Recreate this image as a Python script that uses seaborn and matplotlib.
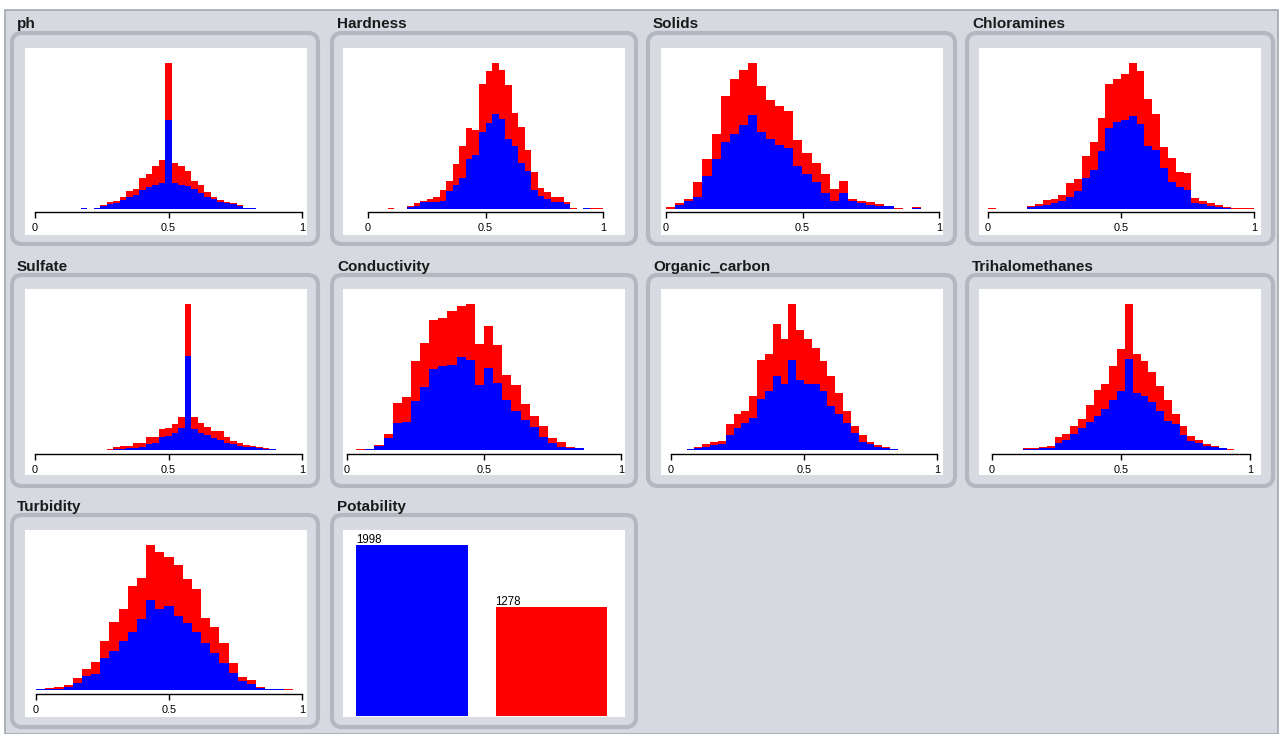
import numpy as np
import pandas as pd
import matplotlib
matplotlib.use("Agg")
import matplotlib.pyplot as plt
import matplotlib.transforms as mtransforms
from matplotlib.patches import FancyBboxPatch, Rectangle
import seaborn as sns

sns.set_theme(style="white")
plt.rcParams["font.family"] = ["Liberation Sans", "DejaVu Sans"]

CLASS_COLORS = {"0": "#0000ff", "1": "#ff0000"}

# Per-bin counts over the normalised range [0, 1]; "_0" = Potability 0, "_1" = Potability 1
ph_0 = [0, 0, 0, 0, 0, 0, 0, 2, 0, 3, 9, 15, 19, 27, 35, 42, 57, 65, 72, 79,
        265, 79, 71, 69, 60, 49, 37, 29, 22, 17, 14, 8, 3, 3, 0, 0, 0, 0, 0, 0, 0]
ph_1 = [0, 0, 0, 0, 0, 0, 0, 0, 0, 0, 4, 6, 5, 8, 19, 19, 35, 40, 57, 67,
        172, 60, 59, 45, 24, 23, 15, 8, 5, 5, 3, 3, 0, 0, 0, 0, 0, 0, 0, 0, 0]

hardness_0 = [0, 0, 0, 0, 0, 0, 7, 10, 20, 22, 22, 24, 54, 72, 92, 149, 162, 229,
              257, 284, 269, 209, 189, 139, 115, 57, 39, 29, 22, 22, 15, 0, 0, 3, 0, 0]
hardness_1 = [0, 0, 0, 3, 0, 0, 3, 7, 4, 8, 15, 33, 30, 62, 98, 93, 75, 145,
              155, 153, 148, 161, 98, 105, 62, 55, 23, 23, 15, 15, 7, 3, 0, 0, 3, 3]

solids_0 = [0, 12, 24, 37, 100, 150, 202, 225, 250, 280, 229, 209, 192, 184, 130,
            104, 82, 49, 24, 47, 23, 17, 13, 10, 8, 0, 0, 3, 0, 0]
solids_1 = [5, 7, 6, 43, 50, 75, 135, 165, 167, 157, 140, 118, 117, 108, 77,
            65, 55, 56, 36, 37, 6, 7, 7, 5, 2, 3, 0, 2, 0, 0]

chloramines_0 = [0, 0, 0, 0, 0, 5, 9, 13, 17, 25, 37, 54, 92, 117, 174, 242, 260,
                 265, 277, 255, 190, 177, 122, 82, 67, 57, 19, 15, 10, 7, 3, 0, 0, 0]
chloramines_1 = [3, 0, 0, 0, 0, 5, 6, 14, 14, 17, 40, 35, 67, 85, 98, 132, 130,
                 140, 160, 157, 140, 107, 65, 70, 43, 50, 13, 10, 7, 5, 4, 3, 3, 3]

sulfate_0 = [0, 0, 0, 0, 0, 0, 0, 0, 0, 0, 0, 0, 3, 4, 5, 7, 10, 18, 20, 38,
             42, 52, 65, 282, 63, 52, 45, 35, 30, 22, 17, 13, 10, 8, 6, 4, 2, 0, 0, 0, 0]
sulfate_1 = [0, 0, 0, 0, 0, 0, 0, 0, 0, 0, 0, 2, 5, 8, 7, 13, 10, 20, 18, 24,
             23, 26, 35, 156, 35, 28, 23, 22, 27, 16, 11, 7, 5, 5, 4, 2, 0, 0, 0, 0, 0]

conductivity_0 = [0, 1, 3, 12, 35, 82, 85, 148, 190, 242, 250, 253, 278, 270, 195,
                  245, 200, 150, 117, 90, 70, 40, 20, 10, 5, 5, 0, 0, 0, 0]
conductivity_1 = [0, 1, 0, 3, 12, 58, 75, 117, 130, 148, 145, 164, 154, 167, 122,
                  127, 113, 75, 78, 47, 33, 32, 17, 13, 5, 0, 0, 0, 0, 0]

organic_carbon_0 = [0, 0, 2, 5, 10, 15, 18, 45, 65, 80, 97, 153, 178, 222, 198, 270, 210,
                    198, 198, 178, 133, 107, 80, 52, 25, 18, 10, 6, 2, 0, 0, 0, 0, 0]
organic_carbon_1 = [0, 0, 0, 5, 8, 10, 10, 32, 42, 37, 66, 117, 109, 156, 135, 167, 148,
                    134, 107, 87, 87, 63, 37, 21, 20, 7, 5, 4, 0, 0, 0, 0, 0, 0]

trihalomethanes_0 = [0, 0, 0, 0, 2, 3, 5, 7, 22, 30, 47, 65, 85, 102, 122, 150, 178,
                     272, 172, 163, 145, 118, 87, 78, 45, 27, 20, 12, 8, 5, 0, 0, 0]
trihalomethanes_1 = [0, 0, 0, 0, 3, 2, 5, 6, 18, 17, 26, 27, 50, 78, 76, 102, 125,
                     166, 115, 104, 88, 74, 63, 29, 28, 16, 10, 5, 5, 2, 2, 0, 0]

turbidity_0 = [2, 2, 4, 8, 20, 43, 47, 97, 117, 148, 175, 212, 270, 243, 252,
               223, 200, 175, 140, 110, 82, 52, 27, 17, 5, 3, 2, 0, 0]
turbidity_1 = [0, 3, 4, 7, 15, 19, 38, 51, 86, 95, 138, 125, 165, 170, 146,
               152, 132, 128, 75, 80, 60, 28, 11, 13, 3, 1, 2, 2, 0]

potability_labels = ["0", "1"]
potability_counts = [1998, 1278]

tick_values = [0, 0.5, 1]
tick_labels = ["0", "0.5", "1"]

attributes = [
    ("ph", ph_0, ph_1),
    ("Hardness", hardness_0, hardness_1),
    ("Solids", solids_0, solids_1),
    ("Chloramines", chloramines_0, chloramines_1),
    ("Sulfate", sulfate_0, sulfate_1),
    ("Conductivity", conductivity_0, conductivity_1),
    ("Organic_carbon", organic_carbon_0, organic_carbon_1),
    ("Trihalomethanes", trihalomethanes_0, trihalomethanes_1),
    ("Turbidity", turbidity_0, turbidity_1),
]

# ---- layout in pixels (origin top-left) ----
W, H = 1282, 734
COL_PANEL = [(12, 318), (332, 636), (648, 955), (967, 1273)]
COL_WHITE = [(25, 307), (343, 625), (661, 943), (979, 1261)]
ROW_PANEL = [(33, 244), (275, 486), (515, 727)]
ROW_WHITE = [(48, 235), (289, 475), (530, 717)]
ROW_TITLE = [28, 271, 511]
ROW_AXIS = [212, 454, 694]
ROW_BASE = [209, 450, 690]
ROW_TOP = [63, 304, 545]
AXIS_X = [(35, 302), (368, 603), (666, 939), (988, 1254),
          (35, 302), (347, 621), (671, 937), (992, 1250),
          (36, 302)]

fig = plt.figure(figsize=(W / 100, H / 100), dpi=100, facecolor="white")
px = mtransforms.Affine2D().scale(1 / 100) + fig.dpi_scale_trans


def frac_rect(x0, y0, x1, y1):
    return [x0 / W, 1 - y1 / H, (x1 - x0) / W, (y1 - y0) / H]


# window background
fig.add_artist(Rectangle((5, 0), 1273, H - 10, transform=px, facecolor="#d6d9e0",
                         edgecolor="#a3a7ae", linewidth=1.2, zorder=-10))


def draw_frame(col, row, title):
    x0, x1 = COL_PANEL[col]
    y0, y1 = ROW_PANEL[row]
    fig.add_artist(FancyBboxPatch((x0, H - y1), x1 - x0, y1 - y0,
                                  boxstyle="round,pad=0,rounding_size=10", transform=px,
                                  facecolor="#d7dae0", edgecolor="#b3b7bf",
                                  linewidth=3, zorder=-5))
    wx0, wx1 = COL_WHITE[col]
    wy0, wy1 = ROW_WHITE[row]
    fig.add_artist(Rectangle((wx0, H - wy1), wx1 - wx0, wy1 - wy0, transform=px,
                             facecolor="white", edgecolor="none", zorder=-4))
    fig.text((x0 + 5) / W, 1 - ROW_TITLE[row] / H, title, fontsize=11,
             fontweight="bold", color="#1a1a1a", va="baseline", ha="left")


def draw_hist(ax, blue, red):
    n = len(blue)
    width = 1.0 / n
    centers = (np.arange(n) + 0.5) * width
    df = pd.DataFrame({
        "value": np.concatenate([centers, centers]),
        "count": list(blue) + list(red),
        "Potability": ["0"] * n + ["1"] * n,
    })
    sns.histplot(data=df, x="value", weights="count", hue="Potability",
                 hue_order=["1", "0"], palette=CLASS_COLORS, bins=n, binrange=(0, 1),
                 multiple="stack", element="step", fill=True, alpha=1,
                 linewidth=0, legend=False, ax=ax)
    return max(b + r for b, r in zip(blue, red))


for i, (name, blue, red) in enumerate(attributes):
    row, col = divmod(i, 4)
    draw_frame(col, row, name)
    ax0, ax1 = AXIS_X[i]
    ax = fig.add_axes(frac_rect(ax0, ROW_TOP[row], ax1, ROW_AXIS[row]))
    ax.patch.set_alpha(0)
    peak = draw_hist(ax, blue, red)
    gap = (ROW_AXIS[row] - ROW_BASE[row]) / (ROW_BASE[row] - ROW_TOP[row])
    ax.set_xlim(0, 1)
    ax.set_ylim(-peak * gap, peak)
    ax.set_xticks(tick_values)
    ax.set_xticklabels(tick_labels)
    ax.set_yticks([])
    ax.set_xlabel("")
    ax.set_ylabel("")
    for s in ("top", "left", "right"):
        ax.spines[s].set_visible(False)
    ax.spines["bottom"].set_color("black")
    ax.spines["bottom"].set_linewidth(1)
    ax.tick_params(axis="x", bottom=True, direction="out", length=4.5, width=1,
                   color="black", labelsize=7.8, labelcolor="black", pad=3.5)

# class distribution panel
draw_frame(1, 2, "Potability")
pot_ax = fig.add_axes(frac_rect(343, 529, 625, 717))
pot_ax.patch.set_alpha(0)
bar_width = 0.803
sns.barplot(x=potability_labels, y=potability_counts, hue=potability_labels,
            palette=CLASS_COLORS, width=bar_width, saturation=1, linewidth=0,
            legend=False, ax=pot_ax)
pot_ax.set_xlim(-0.495, 1.527)
pot_ax.set_ylim(-12, 2185)
for i, v in enumerate(potability_counts):
    pot_ax.annotate(str(v), xy=(i - bar_width / 2, v), xytext=(0, 1.2),
                    textcoords="offset points", ha="left", va="baseline",
                    fontsize=8.3, color="black")
pot_ax.axis("off")

fig.savefig("out.png", dpi=100, facecolor="white")
